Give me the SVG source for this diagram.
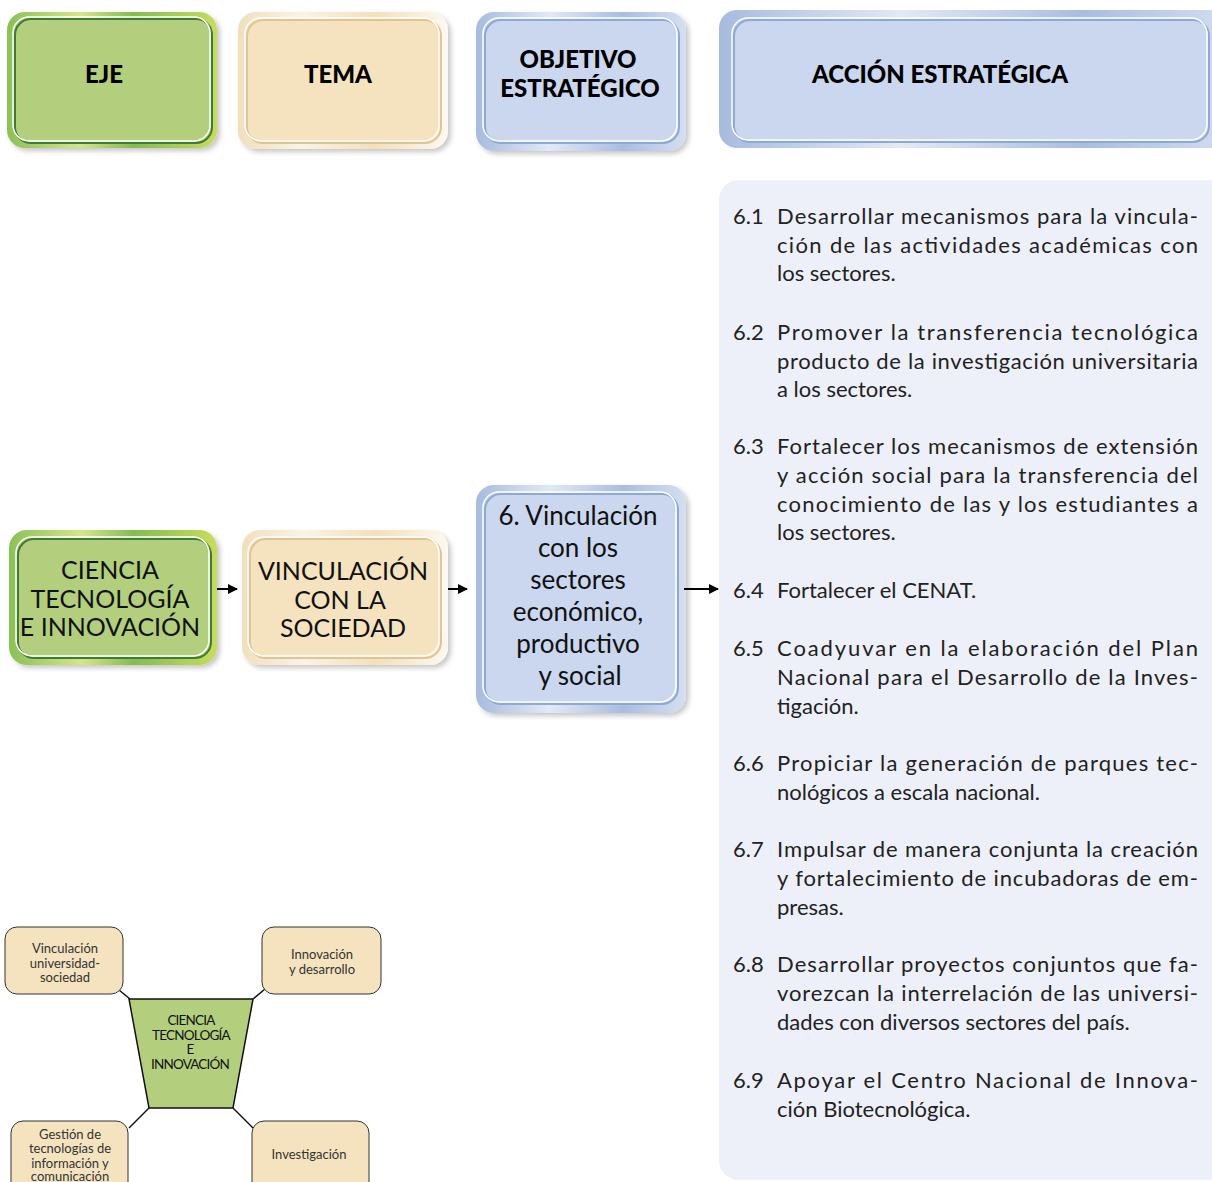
<svg xmlns="http://www.w3.org/2000/svg" width="1212" height="1182" viewBox="0 0 1212 1182">
<defs>
<linearGradient id="gGreen" x1="0" y1="0" x2="1" y2="0">
<stop offset="0" stop-color="#8cc056"/><stop offset="0.35" stop-color="#d6e58c"/><stop offset="0.6" stop-color="#86bb52"/><stop offset="1" stop-color="#c8dc5c"/>
</linearGradient>
<linearGradient id="gTan" x1="0" y1="0" x2="1" y2="0">
<stop offset="0" stop-color="#f1dfbd"/><stop offset="0.3" stop-color="#fbf3e6"/><stop offset="0.65" stop-color="#f3e0bc"/><stop offset="1" stop-color="#fdf8f0"/>
</linearGradient>
<linearGradient id="gBlue" x1="0" y1="0" x2="1" y2="0">
<stop offset="0" stop-color="#a7bbdf"/><stop offset="0.35" stop-color="#e2e9f6"/><stop offset="0.7" stop-color="#a9bde1"/><stop offset="1" stop-color="#d5dff1"/>
</linearGradient>
<filter id="sh" x="-10%" y="-10%" width="125%" height="125%">
<feDropShadow dx="3" dy="3" stdDeviation="2.5" flood-color="#000" flood-opacity="0.22"/>
</filter>
<marker id="arr" viewBox="0 0 10 10" refX="9" refY="5" markerWidth="10" markerHeight="10" markerUnits="userSpaceOnUse" orient="auto">
<path d="M0,0 L10,5 L0,10 z" fill="#000"/>
</marker>
<style>
.hd{font-family:"Lato","Liberation Sans",sans-serif;font-weight:900;font-size:24px;fill:#000;text-anchor:middle}
.nt{font-family:"Lato","Liberation Sans",sans-serif;font-size:25px;fill:#111;text-anchor:middle}
.ot{font-family:"Lato","Liberation Sans",sans-serif;font-size:26px;fill:#111;text-anchor:middle}
.ac{font-family:"Lato","Liberation Sans",sans-serif;font-size:22px;fill:#222}
.mm{font-family:"Lato","Liberation Sans",sans-serif;font-size:13px;fill:#333;text-anchor:middle}
.mc{font-family:"Lato","Liberation Sans",sans-serif;font-size:13.5px;fill:#111;text-anchor:middle;letter-spacing:-0.8px}
.iG{fill:#b3cf7d}
.iT{fill:#f5e3bf}
.iB{fill:#cad7ee}
.dG{fill:none;stroke:#3e7b3a;stroke-width:2}
.dT{fill:none;stroke:#e2c393;stroke-width:2}
.dB{fill:none;stroke:#8fa9d6;stroke-width:2}
.wh{fill:none;stroke:#fff;stroke-width:1.5}
.con{stroke:#000;stroke-width:2;fill:none}
.mbox{fill:#f5e3bf;stroke:#333;stroke-width:1}
.mline{stroke:#111;stroke-width:1.5;fill:none}
</style>
</defs>
<rect width="1212" height="1182" fill="#fff"/>

<!-- Header row -->
<g id="h-eje">
<rect x="7" y="12" width="210" height="136" rx="18" fill="url(#gGreen)" filter="url(#sh)"/>
<rect x="14" y="18" width="197" height="124" rx="16" class="iG"/>
<rect x="14" y="18" width="197" height="124" rx="16" class="dG" transform="translate(1,1)"/>
<rect x="13" y="17" width="197" height="124" rx="16" class="wh"/>
<text x="104" y="83" class="hd">EJE</text>
</g>
<g id="h-tema">
<rect x="238" y="12" width="210" height="137" rx="18" fill="url(#gTan)" filter="url(#sh)"/>
<rect x="246" y="19" width="194" height="123" rx="16" class="iT"/>
<rect x="246" y="19" width="194" height="123" rx="16" class="dT" transform="translate(1,1)"/>
<rect x="245" y="18" width="194" height="123" rx="16" class="wh"/>
<text x="338" y="83" class="hd">TEMA</text>
</g>
<g id="h-objetivo">
<rect x="476" y="12" width="210" height="139" rx="18" fill="url(#gBlue)" filter="url(#sh)"/>
<rect x="484" y="19" width="194" height="123" rx="16" class="iB"/>
<rect x="484" y="19" width="194" height="123" rx="16" class="dB" transform="translate(1,1)"/>
<rect x="483" y="18" width="194" height="123" rx="16" class="wh"/>
<text x="578" y="68" class="hd">OBJETIVO</text>
<text x="580" y="97" class="hd">ESTRATÉGICO</text>
</g>
<g id="h-accion">
<rect x="719" y="10" width="520" height="138" rx="18" fill="url(#gBlue)"/>
<rect x="733" y="19" width="475" height="122" rx="16" class="iB"/>
<rect x="733" y="19" width="475" height="122" rx="16" class="dB" transform="translate(1,1)"/>
<rect x="732" y="18" width="475" height="122" rx="16" class="wh"/>
<text x="940" y="83" class="hd">ACCIÓN ESTRATÉGICA</text>
</g>

<!-- Actions panel -->
<g id="acciones">
<rect x="719" y="180" width="520" height="1000" rx="20" fill="#edf0f8"/>
<g class="ac">
<text x="733" y="224">6.1</text>
<text x="777" y="224" textLength="421">Desarrollar mecanismos para la vincula-</text>
<text x="777" y="253" textLength="421">ción de las actividades académicas con</text>
<text x="777" y="281">los sectores.</text>

<text x="733" y="340">6.2</text>
<text x="777" y="340" textLength="421">Promover la transferencia tecnológica</text>
<text x="777" y="369" textLength="421">producto de la investigación universitaria</text>
<text x="777" y="397">a los sectores.</text>

<text x="733" y="454">6.3</text>
<text x="777" y="454" textLength="421">Fortalecer los mecanismos de extensión</text>
<text x="777" y="483" textLength="421">y acción social para la transferencia del</text>
<text x="777" y="512" textLength="421">conocimiento de las y los estudiantes a</text>
<text x="777" y="540">los sectores.</text>

<text x="733" y="598">6.4</text>
<text x="777" y="598">Fortalecer el CENAT.</text>

<text x="733" y="656">6.5</text>
<text x="777" y="656" textLength="421">Coadyuvar en la elaboración del Plan</text>
<text x="777" y="685" textLength="421">Nacional para el Desarrollo de la Inves-</text>
<text x="777" y="714">tigación.</text>

<text x="733" y="771">6.6</text>
<text x="777" y="771" textLength="421">Propiciar la generación de parques tec-</text>
<text x="777" y="800">nológicos a escala nacional.</text>

<text x="733" y="857">6.7</text>
<text x="777" y="857" textLength="421">Impulsar de manera conjunta la creación</text>
<text x="777" y="886" textLength="421">y fortalecimiento de incubadoras de em-</text>
<text x="777" y="915">presas.</text>

<text x="733" y="972">6.8</text>
<text x="777" y="972" textLength="421">Desarrollar proyectos conjuntos que fa-</text>
<text x="777" y="1001" textLength="421">vorezcan la interrelación de las universi-</text>
<text x="777" y="1030">dades con diversos sectores del país.</text>

<text x="733" y="1088">6.9</text>
<text x="777" y="1088" textLength="421">Apoyar el Centro Nacional de Innova-</text>
<text x="777" y="1117">ción Biotecnológica.</text>
</g>
</g>

<!-- Main row nodes -->
<g id="n-eje">
<rect x="9" y="530" width="208" height="135" rx="18" fill="url(#gGreen)" filter="url(#sh)"/>
<rect x="17" y="538" width="193" height="119" rx="16" class="iG"/>
<rect x="17" y="538" width="193" height="119" rx="16" class="dG" transform="translate(1,1)"/>
<rect x="16" y="537" width="193" height="119" rx="16" class="wh"/>
<text x="110" y="579" class="nt">CIENCIA</text>
<text x="110" y="608" class="nt">TECNOLOGÍA</text>
<text x="110" y="636" class="nt">E INNOVACIÓN</text>
</g>
<g id="n-tema">
<rect x="242" y="530" width="206" height="135" rx="18" fill="url(#gTan)" filter="url(#sh)"/>
<rect x="249" y="538" width="191" height="119" rx="16" class="iT"/>
<rect x="249" y="538" width="191" height="119" rx="16" class="dT" transform="translate(1,1)"/>
<rect x="248" y="537" width="191" height="119" rx="16" class="wh"/>
<text x="343" y="580" class="nt">VINCULACIÓN</text>
<text x="340" y="609" class="nt">CON LA</text>
<text x="343" y="637" class="nt">SOCIEDAD</text>
</g>
<g id="n-objetivo">
<rect x="476" y="485" width="210" height="228" rx="18" fill="url(#gBlue)" filter="url(#sh)"/>
<rect x="484" y="493" width="193" height="210" rx="16" class="iB"/>
<rect x="484" y="493" width="193" height="210" rx="16" class="dB" transform="translate(1,1)"/>
<rect x="483" y="492" width="193" height="210" rx="16" class="wh"/>
<text x="578" y="525" class="ot">6. Vinculación</text>
<text x="578" y="557" class="ot">con los</text>
<text x="578" y="589" class="ot">sectores</text>
<text x="578" y="621" class="ot">económico,</text>
<text x="578" y="653" class="ot">productivo</text>
<text x="580" y="685" class="ot">y social</text>
</g>

<!-- Connectors -->
<g id="connectors">
<line x1="217" y1="589" x2="237" y2="589" class="con" marker-end="url(#arr)"/>
<line x1="448" y1="589" x2="467" y2="589" class="con" marker-end="url(#arr)"/>
<line x1="684" y1="589" x2="718" y2="589" class="con" marker-end="url(#arr)"/>
<line x1="119" y1="990" x2="130" y2="999" class="mline"/>
<line x1="265" y1="989" x2="253" y2="999" class="mline"/>
<line x1="149" y1="1108" x2="129" y2="1128" class="mline"/>
<line x1="233" y1="1108" x2="253" y2="1128" class="mline"/>
</g>

<!-- Mind map -->
<g id="m-centro">
<path d="M129,999 L253,999 L233,1108 L149,1108 Z" fill="#b3cf7d" stroke="#111" stroke-width="1.5"/>
<text x="191" y="1025" class="mc">CIENCIA</text>
<text x="191" y="1040" class="mc">TECNOLOGÍA</text>
<text x="190" y="1054" class="mc">E</text>
<text x="190" y="1069" class="mc">INNOVACIÓN</text>
</g>
<g id="m-vinculacion">
<rect x="5" y="927" width="118" height="67" rx="12" class="mbox"/>
<text x="65" y="953" class="mm">Vinculación</text>
<text x="65" y="968" class="mm">universidad-</text>
<text x="65" y="982" class="mm">sociedad</text>
</g>
<g id="m-innovacion">
<rect x="262" y="927" width="119" height="67" rx="12" class="mbox"/>
<text x="322" y="959" class="mm">Innovación</text>
<text x="322" y="974" class="mm">y desarrollo</text>
</g>
<g id="m-gestion">
<rect x="11" y="1121" width="117" height="75" rx="12" class="mbox"/>
<text x="70" y="1139" class="mm">Gestión de</text>
<text x="70" y="1153" class="mm">tecnologías de</text>
<text x="70" y="1168" class="mm">información y</text>
<text x="70" y="1181" class="mm">comunicación</text>
</g>
<g id="m-investigacion">
<rect x="252" y="1121" width="117" height="75" rx="12" class="mbox"/>
<text x="309" y="1159" class="mm">Investigación</text>
</g>
</svg>
